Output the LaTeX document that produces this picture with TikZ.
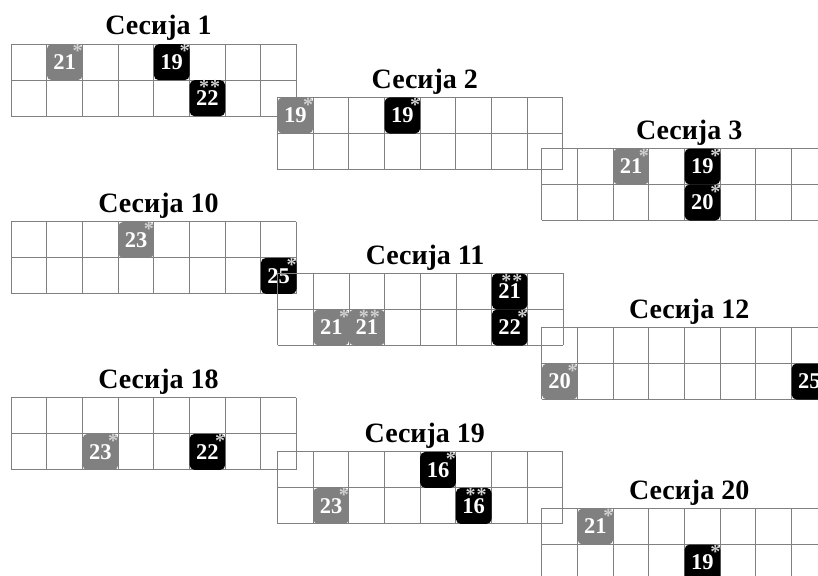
\documentclass[tikz,border=0pt]{standalone}
\usepackage{fontspec}
\setmainfont{Liberation Serif}
\def\cw{35.67}
\def\ch{36}
\tikzset{
  gridline/.style={draw=black!50, line width=0.8pt},
  sesstitle/.style={anchor=base, inner sep=0pt, font=\fontsize{28}{28}\selectfont\bfseries},
  badge/.style={rounded corners=5pt, inner sep=0pt, anchor=north west, text=white,
    minimum width=\cw pt, minimum height=\ch pt, font=\fontsize{22.5}{22.5}\selectfont\bfseries},
  starmark/.style={inner sep=0pt, anchor=north east, text=black!18, font=\fontsize{20}{20}\selectfont\bfseries},
  graybadge/.style={badge, fill=black!50},
  blackbadge/.style={badge, fill=black}
}
% grid: name, x0, y0, title
\newcommand\sessgrid[4]{%
  \foreach \i in {0,...,8} \draw[gridline] (#2+\i*\cw,#3) -- (#2+\i*\cw,#3+2*\ch);
  \foreach \j in {0,1,2} \draw[gridline] (#2,#3+\j*\ch) -- (#2+8*\cw,#3+\j*\ch);
  \node[sesstitle] (#1) at (#2+147.5,#3-9) {#4};
}
% badge: name, x0, y0, col, row, style, number
\newcommand\onestar[7]{%
  \node[#6] (#1) at (#2+#4*\cw,#3+#5*\ch) {\raisebox{-0.5pt}{#7}\hspace{4pt}};
  \node[starmark] (#1s) at ([xshift=0pt,yshift=-0.5pt]#1.north east) {*};
}
\newcommand\twostar[7]{%
  \node[#6] (#1) at (#2+#4*\cw,#3+#5*\ch) {\raisebox{-2.5pt}{#7}};
  \node[starmark] (#1s) at ([xshift=-5pt,yshift=-0.5pt]#1.north east) {*\kern1pt*};
}
\begin{document}
\begin{tikzpicture}[x=1pt,y=-1pt]
\useasboundingbox (0,0) rectangle (818,575);
\clip (0,0) rectangle (818,575);
% Session 1
\sessgrid{g1}{11}{44}{Сесија 1}
\onestar{a1}{11}{44}{1}{0}{graybadge}{21}
\onestar{a2}{11}{44}{4}{0}{blackbadge}{19}
\twostar{a3}{11}{44}{5}{1}{blackbadge}{22}
% Session 2
\sessgrid{g2}{277.3}{97.3}{Сесија 2}
\onestar{b1}{277.3}{97.3}{0}{0}{graybadge}{19}
\onestar{b2}{277.3}{97.3}{3}{0}{blackbadge}{19}
% Session 3
\sessgrid{g3}{541.7}{148.3}{Сесија 3}
\onestar{c1}{541.7}{148.3}{2}{0}{graybadge}{21}
\onestar{c2}{541.7}{148.3}{4}{0}{blackbadge}{19}
\onestar{c3}{541.7}{148.3}{4}{1}{blackbadge}{20}
% Session 10
\sessgrid{g10}{11}{221.7}{Сесија 10}
\onestar{d1}{11}{221.7}{3}{0}{graybadge}{23}
\onestar{d2}{11}{221.7}{7}{1}{blackbadge}{25}
% Session 11
\sessgrid{g11}{277.6}{273.3}{Сесија 11}
\twostar{e1}{277.6}{273.3}{6}{0}{blackbadge}{21}
\onestar{e2}{277.6}{273.3}{6}{1}{blackbadge}{22}
\onestar{e3}{277.6}{273.3}{1}{1}{graybadge}{21}
\twostar{e4}{277.6}{273.3}{2}{1}{graybadge}{21}
% Session 12
\sessgrid{g12}{541.7}{327.3}{Сесија 12}
\onestar{f1}{541.7}{327.3}{0}{1}{graybadge}{20}
\onestar{f2}{541.7}{327.3}{7}{1}{blackbadge}{25}
% Session 18
\sessgrid{g18}{11}{397.7}{Сесија 18}
\onestar{h1}{11}{397.7}{2}{1}{graybadge}{23}
\onestar{h2}{11}{397.7}{5}{1}{blackbadge}{22}
% Session 19
\sessgrid{g19}{277.3}{451.7}{Сесија 19}
\onestar{k1}{277.3}{451.7}{4}{0}{blackbadge}{16}
\twostar{k2}{277.3}{451.7}{5}{1}{blackbadge}{16}
\onestar{k3}{277.3}{451.7}{1}{1}{graybadge}{23}
% Session 20
\sessgrid{g20}{541.7}{508.3}{Сесија 20}
\onestar{m1}{541.7}{508.3}{1}{0}{graybadge}{21}
\onestar{m2}{541.7}{508.3}{4}{1}{blackbadge}{19}
\end{tikzpicture}
\end{document}
